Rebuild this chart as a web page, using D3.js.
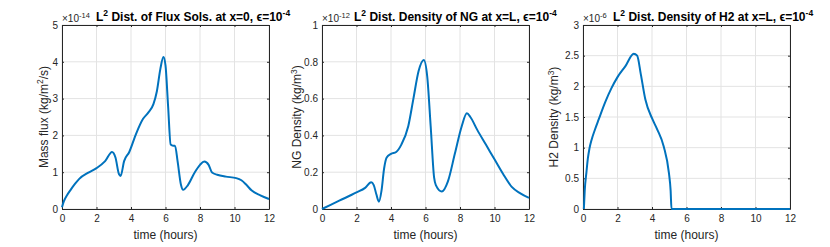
<!DOCTYPE html>
<html>
<head>
<meta charset="utf-8">
<script src="https://cdn.jsdelivr.net/npm/d3@7"></script>
<style>
  body { margin: 0; background: #fff; }
  svg { display: block; font-family: "Liberation Sans", Arial, sans-serif; }
</style>
</head>
<body>
<svg id="chart" width="830" height="247"></svg>
<script>
// time in hours, values in units of the axis exponent
const fluxTime = [0, 0.1, 0.3, 0.5, 0.75, 1, 1.5, 2, 2.5, 2.9, 3.1, 3.3, 3.4, 3.6, 3.9, 4.3, 4.7, 5.0, 5.3, 5.5, 5.7, 5.88, 6.0, 6.15, 6.3, 6.44, 6.55, 6.7, 6.9, 7.02, 7.3, 7.7, 8.0, 8.25, 8.5, 8.7, 9.0, 9.5, 10.1, 10.4, 10.7, 11.0, 11.5, 12];
const fluxVals = [0.05, 0.2, 0.38, 0.52, 0.68, 0.82, 0.98, 1.11, 1.3, 1.55, 1.4, 0.95, 0.9, 1.3, 1.55, 2.05, 2.45, 2.62, 2.85, 3.2, 3.8, 4.13, 3.9, 2.8, 1.75, 1.72, 1.72, 1.3, 0.65, 0.52, 0.65, 1.0, 1.2, 1.29, 1.2, 0.99, 0.93, 0.88, 0.84, 0.78, 0.65, 0.5, 0.37, 0.27];

const ngTime = [0, 1, 2, 2.5, 2.85, 3.0, 3.15, 3.3, 3.45, 3.6, 3.75, 4.0, 4.3, 4.6, 5.0, 5.3, 5.6, 5.9, 6.1, 6.3, 6.5, 6.6, 6.95, 7.3, 7.7, 8.1, 8.4, 8.6, 9.0, 9.5, 10, 10.5, 11, 11.5, 12];
const ngVals = [0, 0.045, 0.09, 0.115, 0.145, 0.13, 0.08, 0.04, 0.1, 0.22, 0.28, 0.3, 0.31, 0.35, 0.45, 0.6, 0.75, 0.81, 0.72, 0.45, 0.17, 0.13, 0.095, 0.15, 0.3, 0.45, 0.52, 0.5, 0.43, 0.35, 0.27, 0.19, 0.12, 0.085, 0.06];

const h2Time = [0.05, 0.1, 0.2, 0.28, 0.37, 0.5, 0.7, 0.91, 1.3, 1.65, 2.0, 2.46, 2.94, 3.14, 3.35, 3.62, 4.0, 4.3, 4.68, 4.98, 5.08, 5.13, 6, 8, 10, 12];
const h2Vals = [0, 0.3, 0.6, 0.82, 0.98, 1.13, 1.3, 1.46, 1.75, 1.97, 2.15, 2.33, 2.53, 2.5, 2.2, 1.78, 1.48, 1.3, 1.02, 0.59, 0.3, 0, 0, 0, 0, 0];

const xTicks = [0, 2, 4, 6, 8, 10, 12];

const panels = [
  { left: 62, time: fluxTime, vals: fluxVals, yMax: 5, yTicks: [0, 1, 2, 3, 4, 5],
    exp: "-14", titleX: 96, title: "Dist. of Flux Sols. at x=0, ",
    yLabel: ["Mass flux (kg/m", "2", "/s)"], yLabelX: 47.5 },
  { left: 322, time: ngTime, vals: ngVals, yMax: 1, yTicks: [0, 0.2, 0.4, 0.6, 0.8, 1],
    exp: "-12", titleX: 354, title: "Dist. Density of NG at x=L, ",
    yLabel: ["NG Density (kg/m", "3", ")"], yLabelX: 301 },
  { left: 583, time: h2Time, vals: h2Vals, yMax: 3, yTicks: [0, 0.5, 1, 1.5, 2, 2.5, 3],
    exp: "-6", titleX: 613, title: "Dist. Density of H2 at x=L, ",
    yLabel: ["H2 Density (kg/m", "3", ")"], yLabelX: 558 }
];

const plotTop = 25, plotBottom = 209, plotW = 207;
const svg = d3.select("#chart");

const drawPanel = p => {
  const xScale = d3.scaleLinear().domain([0, 12]).range([p.left, p.left + plotW]);
  const yScale = d3.scaleLinear().domain([0, p.yMax]).range([plotBottom, plotTop]);
  const g = svg.append("g");

  // grid
  g.append("g")
    .selectAll("line")
    .data(xTicks)
    .join("line")
    .attr("x1", d => xScale(d)).attr("x2", d => xScale(d))
    .attr("y1", plotTop).attr("y2", plotBottom)
    .attr("stroke", "#e3e3e3").attr("stroke-width", 1);
  g.append("g")
    .selectAll("line")
    .data(p.yTicks)
    .join("line")
    .attr("x1", p.left).attr("x2", p.left + plotW)
    .attr("y1", d => yScale(d)).attr("y2", d => yScale(d))
    .attr("stroke", "#e3e3e3").attr("stroke-width", 1);

  // axes (MATLAB style, ticks inside, box on)
  const axisStyle = sel => {
    sel.select(".domain").attr("stroke", "#262626");
    sel.selectAll(".tick line").attr("stroke", "#262626");
    sel.selectAll("text").attr("fill", "#262626").style("font-size", "10px")
      .style("font-family", "Liberation Sans, Arial, sans-serif");
  };
  g.append("g")
    .attr("transform", `translate(0,${plotBottom})`)
    .call(d3.axisBottom(xScale).tickValues(xTicks).tickSize(-2).tickSizeOuter(0).tickPadding(6))
    .call(axisStyle);
  g.append("g")
    .attr("transform", `translate(0,${plotTop})`)
    .call(d3.axisTop(xScale).tickValues(xTicks).tickSize(-2).tickSizeOuter(0).tickFormat(""))
    .call(axisStyle);
  g.append("g")
    .attr("transform", `translate(${p.left},0)`)
    .call(d3.axisLeft(yScale).tickValues(p.yTicks).tickSize(-2).tickSizeOuter(0).tickPadding(4).tickFormat(d3.format("~g")))
    .call(axisStyle);
  g.append("g")
    .attr("transform", `translate(${p.left + plotW},0)`)
    .call(d3.axisRight(yScale).tickValues(p.yTicks).tickSize(-2).tickSizeOuter(0).tickFormat(""))
    .call(axisStyle);

  // data line
  const data = p.time.map((t, i) => ({ t, v: p.vals[i] }));
  g.append("path")
    .datum(data)
    .attr("fill", "none")
    .attr("stroke", "#0072BD")
    .attr("stroke-width", 2)
    .attr("stroke-linejoin", "round")
    .attr("d", d3.line().x(d => xScale(d.t)).y(d => yScale(d.v)).curve(d3.curveMonotoneX));

  // exponent label
  const expText = g.append("text")
    .attr("x", p.left).attr("y", plotTop - 3)
    .attr("fill", "#262626").style("font-size", "10px");
  expText.append("tspan").text("\u00d710");
  expText.append("tspan").attr("dy", -4).style("font-size", "7.5px").text(p.exp);

  // title
  const title = g.append("text")
    .attr("x", p.titleX).attr("y", plotTop - 4.5)
    .attr("fill", "#000").style("font-size", "12px").style("font-weight", "bold");
  title.append("tspan").text("L");
  title.append("tspan").attr("dy", -4.5).style("font-size", "8.5px").text("2");
  title.append("tspan").attr("dy", 4.5).text(" " + p.title + "\u03f5=10");
  title.append("tspan").attr("dy", -4.5).style("font-size", "8.5px").text("-4");

  // x label
  g.append("text")
    .attr("x", xScale(6)).attr("y", 239)
    .attr("text-anchor", "middle")
    .attr("fill", "#262626").style("font-size", "12px")
    .text("time (hours)");

  // y label
  const yl = g.append("text")
    .attr("transform", `translate(${p.yLabelX},${(plotTop + plotBottom) / 2}) rotate(-90)`)
    .attr("text-anchor", "middle")
    .attr("fill", "#262626").style("font-size", "12px");
  yl.append("tspan").text(p.yLabel[0]);
  yl.append("tspan").attr("dy", -4.5).style("font-size", "8.5px").text(p.yLabel[1]);
  yl.append("tspan").attr("dy", 4.5).text(p.yLabel[2]);
};

panels.forEach(drawPanel);
</script>
</body>
</html>
